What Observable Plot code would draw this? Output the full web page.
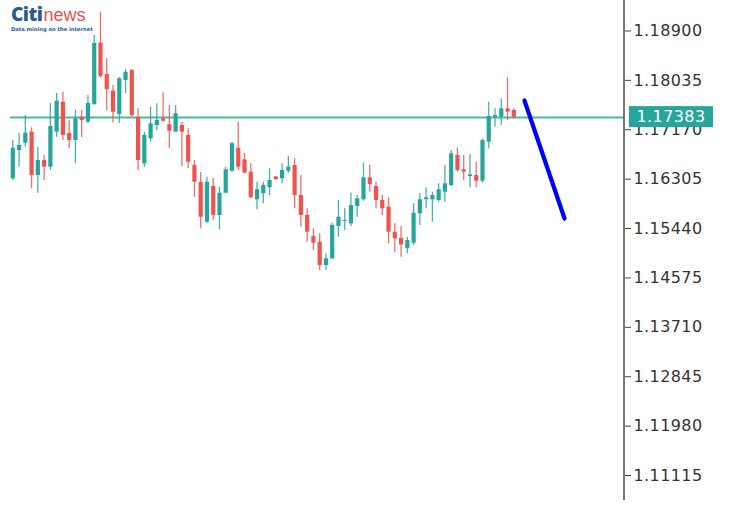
<!DOCTYPE html>
<html><head><meta charset="utf-8">
<script src="https://cdn.jsdelivr.net/npm/d3@7"></script>
<script src="https://cdn.jsdelivr.net/npm/@observablehq/plot@0.6"></script>
<style>
html,body{margin:0;padding:0;background:#fff;}
#wrap{position:relative;width:732px;height:506px;overflow:hidden;}
#logo{position:absolute;left:11px;top:5px;white-space:nowrap;}
#logo .row{line-height:19px;height:19px;}
#logo .citi{font-family:"Open Sans","DejaVu Sans",sans-serif;font-weight:800;font-size:19px;color:#2c5b8d;letter-spacing:-0.5px;}
#logo .news{font-family:"Liberation Sans",Arial,sans-serif;font-weight:400;font-size:18px;color:#e05252;margin-left:1px;}
#logo .tag{font-family:"DejaVu Sans",sans-serif;font-weight:700;font-size:5.2px;line-height:6px;color:#2c5b8d;margin-top:2px;}
svg text{letter-spacing:0.4px;}
</style></head><body><div id="wrap"><div id="logo"><div class="row"><span class="citi">Citi</span><span class="news">news</span></div><div class="tag">Data mining on the internet</div></div></div>
<script>
const opens = [1.16312,1.16807,1.16935,1.17128,1.16369,1.16632,1.16515,1.17128,1.17653,1.17105,
1.16982,1.17390,1.17303,1.17613,1.18686,1.18138,1.17846,1.17438,1.18033,1.18208,
1.17390,1.16574,1.17012,1.17245,1.17362,1.17257,1.17128,1.17245,1.17070,1.16545,
1.16252,1.15552,1.16177,1.15669,1.16059,1.16445,1.16847,1.16644,1.16427,1.15944,
1.16049,1.16154,1.16343,1.16312,1.16445,1.16545,1.16019,1.15669,1.15301,1.15201,
1.14793,1.14911,1.15476,1.15564,1.15523,1.15826,1.15944,1.16329,1.16177,1.15932,
1.15814,1.15376,1.15266,1.15086,1.15184,1.15699,1.15944,1.15944,1.15932,1.16077,
1.16194,1.16720,1.16469,1.16352,1.16369,1.16270,1.16953,1.17390,1.17390,1.17537,1.17508];
const highs = [1.16982,1.17110,1.17420,1.17205,1.16865,1.16720,1.17630,1.17805,1.17828,1.17333,
1.17508,1.17508,1.17770,1.18821,1.19229,1.18418,1.17946,1.18086,1.18226,1.18226,
1.17543,1.17128,1.17566,1.17625,1.17818,1.17595,1.17595,1.17303,1.17187,1.16632,
1.16422,1.16340,1.16317,1.16164,1.16515,1.16953,1.17303,1.16760,1.16574,1.16252,
1.16252,1.16487,1.16352,1.16574,1.16702,1.16662,1.16369,1.15786,1.15436,1.15348,
1.14998,1.15534,1.15932,1.15786,1.16059,1.16019,1.16585,1.16545,1.16252,1.16019,
1.15979,1.15523,1.15476,1.15289,1.15874,1.16049,1.16154,1.16077,1.16224,1.16545,
1.16807,1.16854,1.16720,1.16737,1.16602,1.17012,1.17653,1.17537,1.17713,1.18080,1.17537];
const lows = [1.16282,1.16515,1.16865,1.16136,1.16059,1.16282,1.16457,1.17040,1.16982,1.16842,
1.16580,1.17035,1.17280,1.17595,1.18068,1.17508,1.17289,1.17280,1.17805,1.17385,
1.16457,1.16515,1.16953,1.17157,1.17303,1.16842,1.17122,1.16527,1.16487,1.15989,
1.15436,1.15523,1.15581,1.15418,1.16049,1.16427,1.16457,1.16399,1.15961,1.15769,
1.15874,1.16019,1.16282,1.16224,1.16410,1.15786,1.15464,1.15201,1.15056,1.14706,
1.14706,1.14893,1.15289,1.15406,1.15476,1.15639,1.15919,1.16077,1.15786,1.15669,
1.15173,1.15026,1.14939,1.14998,1.15143,1.15494,1.15786,1.15552,1.15902,1.15902,
1.16177,1.16427,1.16282,1.16154,1.16154,1.16235,1.16837,1.17215,1.17245,1.17333,1.17362];
const closes = [1.16847,1.16895,1.17110,1.16369,1.16632,1.16515,1.17228,1.17671,1.17070,1.16982,
1.17362,1.17333,1.17630,1.18681,1.18103,1.17875,1.17478,1.18063,1.18178,1.17420,
1.16632,1.17070,1.17275,1.17333,1.17320,1.17145,1.17450,1.17128,1.16602,1.16252,
1.15639,1.16252,1.15669,1.16059,1.16469,1.16925,1.16515,1.16410,1.15979,1.16119,
1.16194,1.16282,1.16299,1.16457,1.16515,1.16019,1.15669,1.15376,1.15184,1.14793,
1.14911,1.15494,1.15639,1.15581,1.15844,1.15961,1.16329,1.16212,1.15932,1.15786,
1.15376,1.15261,1.15152,1.15231,1.15709,1.15944,1.15979,1.16019,1.16119,1.16224,
1.16749,1.16457,1.16427,1.16382,1.16270,1.16982,1.17403,1.17420,1.17537,1.17478,1.17390];
const tickValues = [1.18900,1.18035,1.17170,1.16305,1.15440,1.14575,1.13710,1.12845,1.11980,1.11115];
const lastPrice = 1.17383;
const forecastIdx = [81.7, 88.1];
const forecastPrice = [1.17683, 1.15616];

const candles = opens.map((o, i) => ({i, open: o, high: highs[i], low: lows[i], close: closes[i]}));
const upC = candles.filter(d => d.close >= d.open);
const dnC = candles.filter(d => d.close < d.open);
const forecast = forecastIdx.map((x, k) => ({i: x, p: forecastPrice[k]}));
const up = "#26a69a", down = "#ef5350";
const W = 732, H = 506, mR = 108;
const fmt = d3.format(".5f");

const plot = Plot.plot({
  width: W, height: H, marginLeft: 10, marginRight: mR, marginTop: 0, marginBottom: 6,
  x: {type: "linear", domain: [0, 80], range: [12.3, 513.3], axis: null},
  y: {type: "linear", domain: [1.11115, 1.18900], range: [475, 30.5], axis: null},
  style: {background: "transparent", color: "#333", fontFamily: "'DejaVu Sans', sans-serif", fontSize: "16px"},
  marks: [
    Plot.ruleY([lastPrice], {stroke: "#4fb5a6", strokeWidth: 2}),
    Plot.ruleX(upC, {x: "i", y1: "low", y2: "high", stroke: up, strokeWidth: 1.3, strokeOpacity: 0.85}),
    Plot.ruleX(dnC, {x: "i", y1: "low", y2: "high", stroke: down, strokeWidth: 1.3, strokeOpacity: 0.85}),
    Plot.ruleX(upC, {x: "i", y1: "open", y2: "close", stroke: up, strokeWidth: 4.2}),
    Plot.ruleX(dnC, {x: "i", y1: "open", y2: "close", stroke: down, strokeWidth: 4.2}),
    Plot.line(forecast, {x: "i", y: "p", stroke: "#0000ff", strokeWidth: 4.2, strokeLinecap: "round"}),
    Plot.axisY(tickValues, {anchor: "right", tickFormat: fmt, tickSize: 6, tickPadding: 3, fontSize: 16, stroke: "#444"})
  ]
});
document.getElementById("wrap").prepend(plot);
const svg = d3.select(plot);
const ax = W - mR;
svg.append("line").attr("x1", ax).attr("x2", ax).attr("y1", 0).attr("y2", 500)
  .attr("stroke", "#555").attr("stroke-width", 1.6);
const yy = plot.scale("y").apply(lastPrice);
svg.append("rect").attr("x", ax + 5).attr("y", yy - 11).attr("width", 84).attr("height", 21).attr("fill", "#26a69a");
svg.append("text").attr("x", ax + 47).attr("y", yy - 0.5).attr("dy", "0.36em").attr("text-anchor", "middle")
  .attr("fill", "#fff").attr("font-size", 16).attr("font-family", "'DejaVu Sans', sans-serif").text(fmt(lastPrice));
</script></body></html>
